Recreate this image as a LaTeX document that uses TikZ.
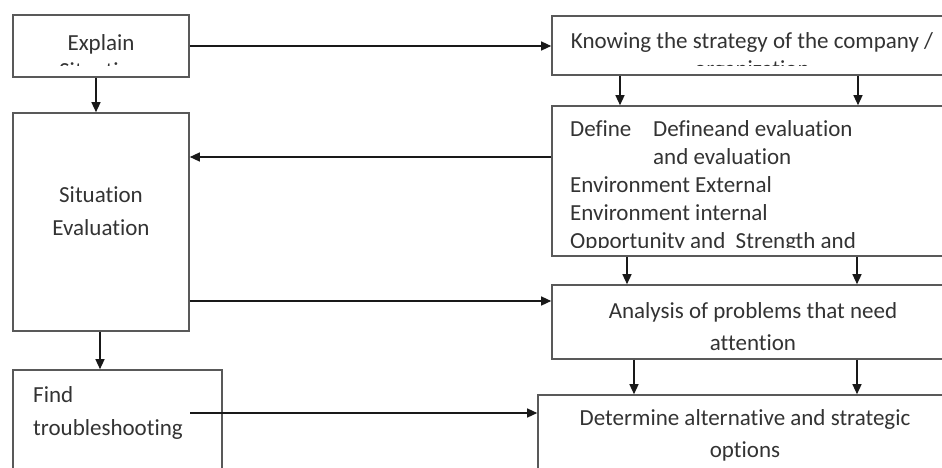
\documentclass[tikz,border=0pt]{standalone}
\usepackage{fontspec}
\setmainfont[Ligatures=NoCommon]{Carlito}
\usetikzlibrary{arrows.meta,calc}
\begin{document}
\begin{tikzpicture}[x=1pt,y=-1pt,
  box/.style={draw=black!65, line width=1.6pt, rectangle, inner sep=0pt, fill=white},
  txt/.style={font=\fontsize{23}{28}\selectfont, text=black!80, inner sep=0pt},
  arr/.style={draw=black!90, line width=1.3pt, -{Triangle[length=10pt,width=9pt]}},
]
\useasboundingbox (0,0) rectangle (942,468);
\clip (0,0) rectangle (942,468);

% boxes
\node[box, minimum width=176pt, minimum height=62pt]  (explain)   at (101,46)    {};
\node[box, minimum width=176pt, minimum height=218pt] (situation) at (101,222)   {};
\node[box, minimum width=209pt, minimum height=130pt] (find)      at (117.5,435) {};
\node[box, minimum width=408pt, minimum height=59pt]  (knowing)   at (756,45.5)  {};
\node[box, minimum width=408pt, minimum height=150pt] (define)    at (756,181)   {};
\node[box, minimum width=408pt, minimum height=74pt]  (analysis)  at (756,322)   {};
\node[box, minimum width=422pt, minimum height=105pt] (determine) at (749,447.5) {};

% texts (overflowing lines are cut at the inner margin of their box)
\begin{scope}
  \clip (13,15) rectangle (189,66);
  \node[txt, align=center] (explaintxt) at (101,57) {Explain\\Situation};
\end{scope}
\begin{scope}
  \clip (552,16) rectangle (942,66);
  \node[txt, align=center] (knowingtxt) at (752,56) {Knowing the strategy of the company /\\organization};
\end{scope}
\begin{scope}
  \clip (552,106) rectangle (942,247);
  \node[txt, align=left, anchor=west] (definetxt) at (570,186)
    {\makebox[83pt][l]{Define}Defineand evaluation\\
     \hspace*{83pt}and evaluation\\
     Environment External\\
     Environment internal\\
     Opportunity and\ \ Strength and};
\end{scope}
\node[txt, align=center, font=\fontsize{23}{33}\selectfont] (situationtxt) at (101,211.5) {Situation\\Evaluation};
\node[txt, align=left, anchor=west, font=\fontsize{23}{33}\selectfont] (findtxt) at (33,412.5) {Find\\troubleshooting};
\node[txt, align=center, font=\fontsize{23}{32}\selectfont] (analysistxt) at (753,327) {Analysis of problems that need\\attention};
\node[txt, align=center, font=\fontsize{23}{32}\selectfont] (determinetxt) at (745,435) {Determine alternative and strategic\\options};

% connectors
\draw[arr] ([xshift=-5pt]explain.south) -- ([xshift=-5pt]situation.north);
\draw[arr] (explain.east) -- (explain.east -| knowing.west);
\draw[arr] ([yshift=24pt]define.west) -- ([yshift=24pt]define.west -| situation.east);
\draw[arr] ([yshift=-79pt]situation.east) -- ([yshift=-79pt]situation.east -| analysis.west);
\draw[arr] ([xshift=-1pt]situation.south) -- ([xshift=-1pt]situation.south |- find.north);
\coordinate (findout) at (190,413);
\draw[arr] (findout) -- (findout -| determine.west);

\draw[arr] ([xshift=-136pt]knowing.south) -- ([xshift=-136pt]knowing.south |- define.north);
\draw[arr] ([xshift=102pt]knowing.south)  -- ([xshift=102pt]knowing.south |- define.north);
\draw[arr] ([xshift=-129pt]define.south)  -- ([xshift=-129pt]define.south |- analysis.north);
\draw[arr] ([xshift=101pt]define.south)   -- ([xshift=101pt]define.south |- analysis.north);
\draw[arr] ([xshift=-122pt]analysis.south) -- ([xshift=-122pt]analysis.south |- determine.north);
\draw[arr] ([xshift=101pt]analysis.south)  -- ([xshift=101pt]analysis.south |- determine.north);
\end{tikzpicture}
\end{document}
